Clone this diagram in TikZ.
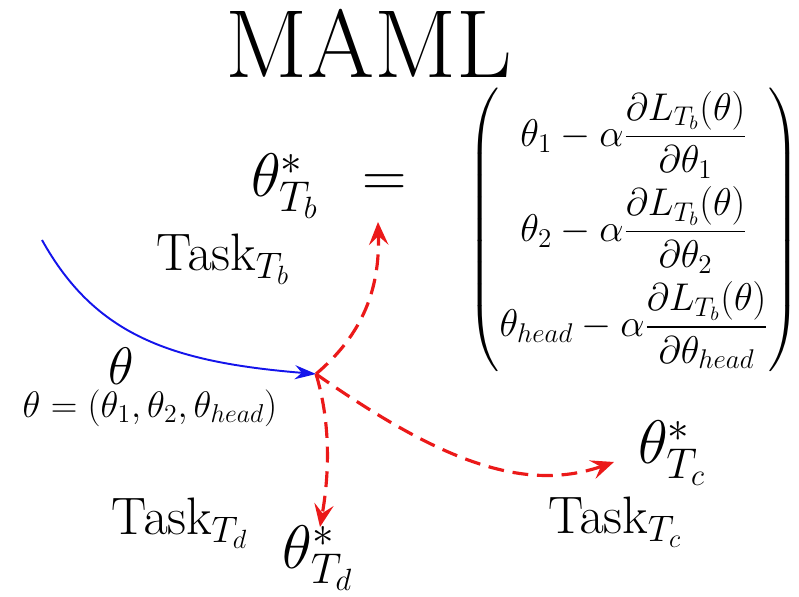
\RequirePackage{fix-cm}
\documentclass[tikz,border=0pt]{standalone}
\usepackage{amsmath}
\usepackage{tikz}
\usetikzlibrary{arrows.meta, positioning}
\definecolor{pathblue}{RGB}{20,20,235}
\definecolor{taskred}{RGB}{235,25,25}
\tikzset{
  pathline/.style={-{Stealth[length=12pt, width=8pt]}, line width=1.1pt,
                   color=pathblue},
  taskline/.style={-{Stealth[length=13pt, width=11pt, inset=5pt]}, line width=1.8pt,
                   color=taskred, dash pattern=on 9pt off 5pt},
  hugetext/.style={font=\fontsize{55}{60}\selectfont, inner sep=0pt},
  optlabel/.style={font=\fontsize{35}{40}\selectfont, inner sep=0pt},
  tasklabel/.style={font=\fontsize{30}{34}\selectfont, inner sep=0pt},
  smalllabel/.style={font=\fontsize{21}{25}\selectfont, inner sep=0pt}
}

\begin{document}
\begin{tikzpicture}[x=0.02cm, y=-0.02cm]
  \useasboundingbox (0,0) rectangle (799,597);

  %% title
  \node[hugetext] (title) at (369,43) {MAML};

  %% shared initial parameters
  \node[optlabel, font=\fontsize{30}{34}\selectfont] (theta) at (121,366) {$\theta$};
  \node[smalllabel] (thetadef) at (150,408) {$\theta=(\theta_1,\theta_2,\theta_{head})$};

  %% task specific optima
  \node[optlabel] (optb) at (329,186) {$\theta^*_{T_b}\;\,=$};
  \node[tasklabel] (taskb) at (223,259) {$\mathrm{Task}_{T_b}$};
  \node[optlabel] (optc) at (672,453) {$\theta^*_{T_c}$};
  \node[tasklabel] (taskc) at (615,522) {$\mathrm{Task}_{T_c}$};
  \node[optlabel] (optd) at (318,558) {$\theta^*_{T_d}$};
  \node[tasklabel] (taskd) at (180,523) {$\mathrm{Task}_{T_d}$};

  %% update vector
  \node[smalllabel, font=\fontsize{22}{26}\selectfont] (update) at (634,230)
    {$\left(\begin{matrix}
      \theta_1-\alpha\dfrac{\partial L_{T_b}(\theta)}{\partial\theta_1}\\[15pt]
      \theta_2-\alpha\dfrac{\partial L_{T_b}(\theta)}{\partial\theta_2}\\[15pt]
      \theta_{head}-\alpha\dfrac{\partial L_{T_b}(\theta)}{\partial\theta_{head}}
    \end{matrix}\right)$};

  %% path end points
  \coordinate (start) at (42,240);
  \coordinate (meta) at (316,374);
  \coordinate (tob) at (378,222);
  \coordinate (toc) at (614,462);
  \coordinate (tod) at (320,527);

  %% arrows
  \draw[pathline] (start) .. controls (95,335) and (170,362) .. (meta);
  \draw[taskline] (meta) .. controls (362,335) and (380,290) .. (tob);
  \draw[taskline] (meta) .. controls (432,455) and (520,495) .. (toc);
  \draw[taskline] (meta) .. controls (330,420) and (330,470) .. (tod);

\end{tikzpicture}
\end{document}
